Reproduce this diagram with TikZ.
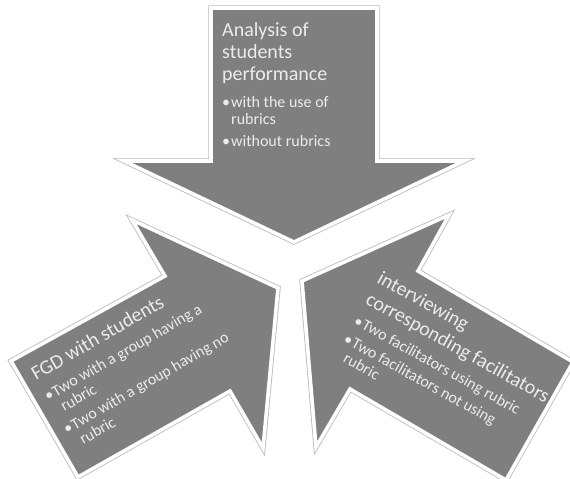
\documentclass[tikz,border=0pt]{standalone}
\usepackage{fontspec}
\setmainfont{Carlito}
\definecolor{shapegray}{RGB}{127,127,127}
\definecolor{txtgray}{RGB}{236,236,236}
\newcommand\bul{\makebox[9pt][l]{•}}
\newcommand\cont{\hspace*{9pt}}
\begin{document}
\begin{tikzpicture}[x=1pt,y=-1pt,
  arrowshape/.style={preaction={draw=black!28, line width=5.2pt, line join=miter},
                     fill=shapegray, draw=white, line width=3.6pt, line join=miter},
  txtblock/.style={anchor=base west, inner sep=0pt, text=txtgray}]
\useasboundingbox (0,0) rectangle (570,479);

% ---- top arrow (pointing down)
\coordinate (a1) at (211,8);
\coordinate (a2) at (377,8);
\coordinate (a3) at (377,161);
\coordinate (a4) at (464,161);
\coordinate (a5) at (294,242);
\coordinate (a6) at (124,161);
\coordinate (a7) at (211,161);
\path[arrowshape] (a1) -- (a2) -- (a3) -- (a4) -- (a5) -- (a6) -- (a7) -- cycle;

% ---- bottom-left arrow (pointing up-right)
\coordinate (b1) at (11,361);
\coordinate (b2) at (165,276);
\coordinate (b3) at (132,220);
\coordinate (b4) at (278,288);
\coordinate (b5) at (263,448);
\coordinate (b6) at (230,391);
\coordinate (b7) at (78,477);
\path[arrowshape] (b1) -- (b2) -- (b3) -- (b4) -- (b5) -- (b6) -- (b7) -- cycle;

% ---- bottom-right arrow (pointing up-left)
\coordinate (c1) at (302,281);
\coordinate (c2) at (449,215);
\coordinate (c3) at (418,271);
\coordinate (c4) at (573,362);
\coordinate (c5) at (506,480);
\coordinate (c6) at (350,389);
\coordinate (c7) at (316,447);
\path[arrowshape] (c1) -- (c2) -- (c3) -- (c4) -- (c5) -- (c6) -- (c7) -- cycle;

% ---- text of the top arrow
\node[txtblock] (ttop) at (222,36) {\parbox[t]{160pt}{%
  {\fontsize{20}{22}\selectfont Analysis of\\students\\performance\par}
  \vspace{10pt}
  {\fontsize{16}{17}\selectfont \bul with the use of\\\cont rubrics\\[5pt]\bul without rubrics\par}}};

% ---- text of the left arrow
\begin{scope}[shift={(36,381)}, rotate=30, transform shape]
\node[txtblock] (tleft) at (0,0) {\parbox[t]{260pt}{%
  {\fontsize{20}{22}\selectfont FGD with students\par}
  \vspace{7pt}
  {\fontsize{16}{17}\selectfont \bul Two with a group having a\\\cont rubric\\[4pt]\bul Two with a group having no\\\cont rubric\par}}};
\end{scope}

% ---- text of the right arrow
\begin{scope}[shift={(376,282)}, rotate=-29, transform shape]
\node[txtblock] (tright) at (0,0) {\parbox[t]{260pt}{%
  {\fontsize{20}{24}\selectfont interviewing\\corresponding facilitators\par}
  \vspace{7pt}
  {\fontsize{16}{17}\selectfont \bul Two facilitators using rubric\\[4pt]\bul Two facilitators not using\\\cont rubric\par}}};
\end{scope}
\end{tikzpicture}
\end{document}
